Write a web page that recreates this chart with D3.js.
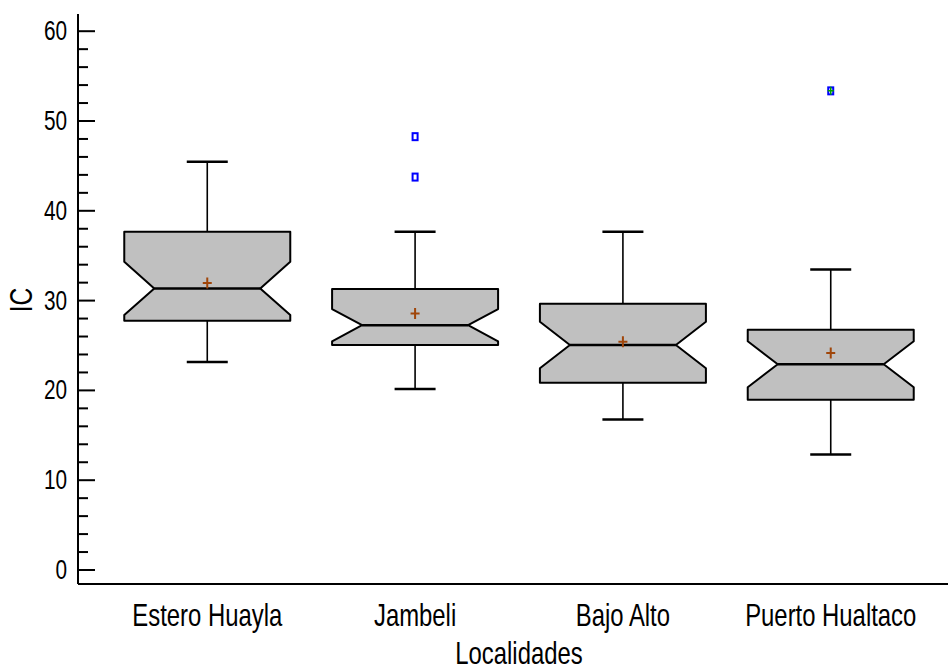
<!DOCTYPE html>
<html>
<head>
<meta charset="utf-8">
<script src="https://cdn.jsdelivr.net/npm/d3@7"></script>
<style>
  html, body { margin: 0; padding: 0; background: #fff; }
  svg { display: block; }
  text { font-family: "Liberation Sans", Arial, sans-serif; fill: #000; }
</style>
</head>
<body>
<svg id="chart" width="948" height="671"></svg>
<script>
// Localities and box-plot summaries of IC
const categories = ["Estero Huayla", "Jambeli", "Bajo Alto", "Puerto Hualtaco"];
const whiskerLow  = [23.1, 20.1, 16.7, 12.8];
const q1          = [27.7, 25.0, 20.8, 18.9];
const medians     = [31.3, 27.2, 25.0, 22.85];
const q3          = [37.6, 31.25, 29.6, 26.7];
const whiskerHigh = [45.4, 37.6, 37.6, 33.4];
const means       = [31.9, 28.5, 25.35, 24.1];
const notchHalf   = [2.96, 1.8, 2.58, 2.56];
const outliers    = [[], [43.7, 48.2], [], [53.3]];
const farOutside  = [[], [], [], [53.3]];
const yTicks      = [0, 10, 20, 30, 40, 50, 60];

const svg = d3.select("#chart");

const y = d3.scaleLinear().domain([0, 60]).range([569.5, 30.7]);
const x = d3.scalePoint().domain(categories).range([78, 960]).padding(0.622);

const axisX = 78, axisTop = 14, axisBottom = 584;
const narrow = 0.77; // horizontal condensing for the narrow label face

// condensed text helper: anchor point (tx, ty), optional rotation
function label(parent, tx, ty, str, size, anchor, rot) {
  return parent.append("text")
    .attr("transform", `translate(${tx},${ty})${rot ? ` rotate(${rot})` : ""} scale(${narrow},1)`)
    .attr("text-anchor", anchor).attr("font-size", size).text(str);
}

// plot frame: left and bottom axis lines
svg.append("line").attr("x1", axisX).attr("x2", axisX).attr("y1", axisTop).attr("y2", axisBottom)
  .attr("stroke", "#000").attr("stroke-width", 2);
svg.append("line").attr("x1", axisX).attr("x2", 948).attr("y1", axisBottom).attr("y2", axisBottom)
  .attr("stroke", "#000").attr("stroke-width", 2);

// y axis: major ticks inward, minor ticks every 2 units
const yAxis = d3.axisRight(y).tickValues(yTicks).tickSize(17).tickFormat("");
const gy = svg.append("g").attr("transform", `translate(${axisX},0)`).call(yAxis);
gy.select(".domain").remove();
gy.selectAll(".tick line").attr("stroke", "#000").attr("stroke-width", 2);

const minor = d3.range(0, 61, 2).filter(v => v % 10 !== 0);
const yMinor = d3.axisRight(y).tickValues(minor).tickSize(10).tickFormat("");
const gm = svg.append("g").attr("transform", `translate(${axisX},0)`).call(yMinor);
gm.select(".domain").remove();
gm.selectAll(".tick line").attr("stroke", "#000").attr("stroke-width", 2);

const gLabels = svg.append("g");
yTicks.forEach(v => label(gLabels, 67, y(v) + 9.5, String(v), 27, "end"));

// axis titles
label(svg, 32, 300, "IC", 32, "middle", -90);
categories.forEach(c => label(svg, x(c), 626, c, 31, "middle"));
label(svg, 519, 664, "Localidades", 31, "middle");

// notched boxes
const boxHalf = 83, notchInner = 53, capHalf = 20.5;

const groups = svg.append("g").selectAll("g").data(categories).join("g");

groups.each(function(c, i) {
  const g = d3.select(this);
  const cx = x(c);

  // whiskers
  g.append("line").attr("x1", cx).attr("x2", cx).attr("y1", y(q3[i])).attr("y2", y(whiskerHigh[i]))
    .attr("stroke", "#000").attr("stroke-width", 1.6);
  g.append("line").attr("x1", cx).attr("x2", cx).attr("y1", y(q1[i])).attr("y2", y(whiskerLow[i]))
    .attr("stroke", "#000").attr("stroke-width", 1.6);
  g.append("line").attr("x1", cx - capHalf).attr("x2", cx + capHalf)
    .attr("y1", y(whiskerHigh[i])).attr("y2", y(whiskerHigh[i]))
    .attr("stroke", "#000").attr("stroke-width", 2.5);
  g.append("line").attr("x1", cx - capHalf).attr("x2", cx + capHalf)
    .attr("y1", y(whiskerLow[i])).attr("y2", y(whiskerLow[i]))
    .attr("stroke", "#000").attr("stroke-width", 2.5);

  const nTop = Math.min(q3[i], medians[i] + notchHalf[i]);
  const nBot = Math.max(q1[i], medians[i] - notchHalf[i]);
  const pts = [
    [cx - boxHalf, y(q3[i])], [cx + boxHalf, y(q3[i])],
    [cx + boxHalf, y(nTop)], [cx + notchInner, y(medians[i])],
    [cx + boxHalf, y(nBot)], [cx + boxHalf, y(q1[i])],
    [cx - boxHalf, y(q1[i])], [cx - boxHalf, y(nBot)],
    [cx - notchInner, y(medians[i])], [cx - boxHalf, y(nTop)]
  ];
  g.append("path").attr("d", d3.line()(pts) + "Z")
    .attr("fill", "#c0c0c0").attr("stroke", "#000").attr("stroke-width", 2)
    .attr("stroke-linejoin", "round");

  g.append("line").attr("x1", cx - notchInner).attr("x2", cx + notchInner)
    .attr("y1", y(medians[i])).attr("y2", y(medians[i]))
    .attr("stroke", "#000").attr("stroke-width", 2.5);

  // mean marker
  const my = y(means[i]);
  g.append("path").attr("d", `M${cx - 4.5},${my}H${cx + 4.5}M${cx},${my - 5.5}V${my + 5.5}`)
    .attr("stroke", "#a0460a").attr("stroke-width", 2).attr("fill", "none");

  // outside points
  outliers[i].forEach(v => {
    g.append("rect").attr("x", cx - 2.5).attr("y", y(v) - 3.5).attr("width", 5).attr("height", 7)
      .attr("fill", "none").attr("stroke", "#0000ff").attr("stroke-width", 2);
  });
  farOutside[i].forEach(v => {
    g.append("path").attr("d", `M${cx - 3},${y(v)}H${cx + 3}M${cx},${y(v) - 4}V${y(v) + 4}`)
      .attr("stroke", "#00a000").attr("stroke-width", 1.5).attr("fill", "none");
  });
});
</script>
</body>
</html>
